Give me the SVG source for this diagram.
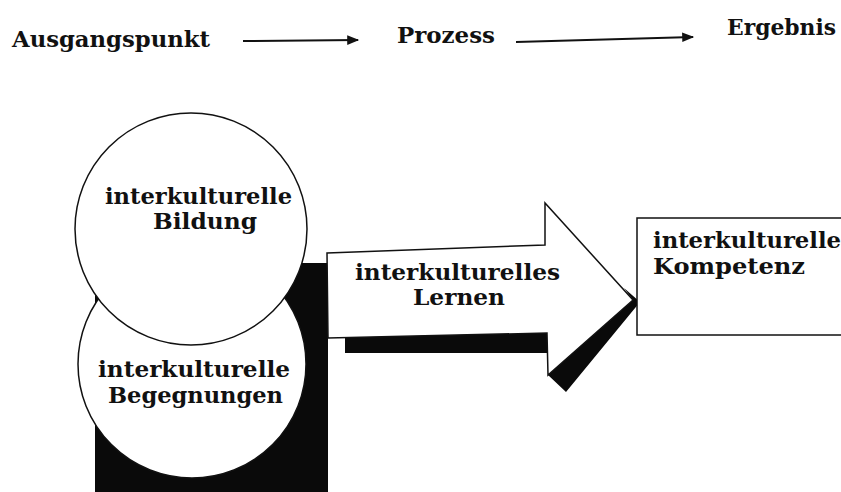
<svg xmlns="http://www.w3.org/2000/svg" width="841" height="492" viewBox="0 0 841 492">
<defs>
<style>
text{font-family:"DejaVu Serif","Liberation Serif",serif;font-weight:bold;fill:#111;font-size:22px;}
.ln{stroke:#111;stroke-width:2;fill:none;}
.sh{fill:#0a0a0a;}
.w{fill:#fff;stroke:#111;stroke-width:1.5;}
</style>
<marker id="ah" viewBox="0 0 10 10" refX="9" refY="5" markerWidth="13" markerHeight="12" markerUnits="userSpaceOnUse" orient="auto">
<path d="M0,1 L10,5 L0,9 Z" fill="#111"/>
</marker>
</defs>
<rect width="841" height="492" fill="#fff"/>

<g id="header">
<text x="12" y="47" textLength="198" lengthAdjust="spacingAndGlyphs">Ausgangspunkt</text>
<text x="397" y="43" textLength="98" lengthAdjust="spacingAndGlyphs">Prozess</text>
<text x="727" y="35" textLength="109" lengthAdjust="spacingAndGlyphs">Ergebnis</text>
</g>

<g id="connectors">
<line class="ln" x1="243" y1="41" x2="358" y2="40" marker-end="url(#ah)"/>
<line class="ln" x1="516" y1="42" x2="693" y2="37" marker-end="url(#ah)"/>
</g>

<g id="shadow">
<rect class="sh" x="95" y="263" width="233" height="229"/>
</g>

<g id="begegnungen">
<circle class="w" cx="192" cy="364" r="114"/>
<text x="98" y="377" textLength="192" lengthAdjust="spacingAndGlyphs">interkulturelle</text>
<text x="108" y="403" textLength="175" lengthAdjust="spacingAndGlyphs">Begegnungen</text>
</g>

<g id="bildung">
<circle class="w" cx="191" cy="229" r="116"/>
<text x="105" y="204" textLength="187" lengthAdjust="spacingAndGlyphs">interkulturelle</text>
<text x="153" y="229" textLength="104" lengthAdjust="spacingAndGlyphs">Bildung</text>
</g>

<g id="lernen">
<rect class="sh" x="345" y="334" width="202" height="19"/>
<polygon class="sh" points="548,375 633,300 624,288 640,302 566,392"/>
<polygon class="w" points="327,253 545,245 545,203 633,300 548,375 547,333 328,338"/>
<text x="355" y="280" textLength="205" lengthAdjust="spacingAndGlyphs">interkulturelles</text>
<text x="413" y="305" textLength="92" lengthAdjust="spacingAndGlyphs">Lernen</text>
</g>

<g id="kompetenz">
<rect class="w" x="637" y="218" width="220" height="117"/>
<text x="653" y="248" textLength="188" lengthAdjust="spacingAndGlyphs">interkulturelle</text>
<text x="653" y="274" textLength="152" lengthAdjust="spacingAndGlyphs">Kompetenz</text>
</g>
</svg>
